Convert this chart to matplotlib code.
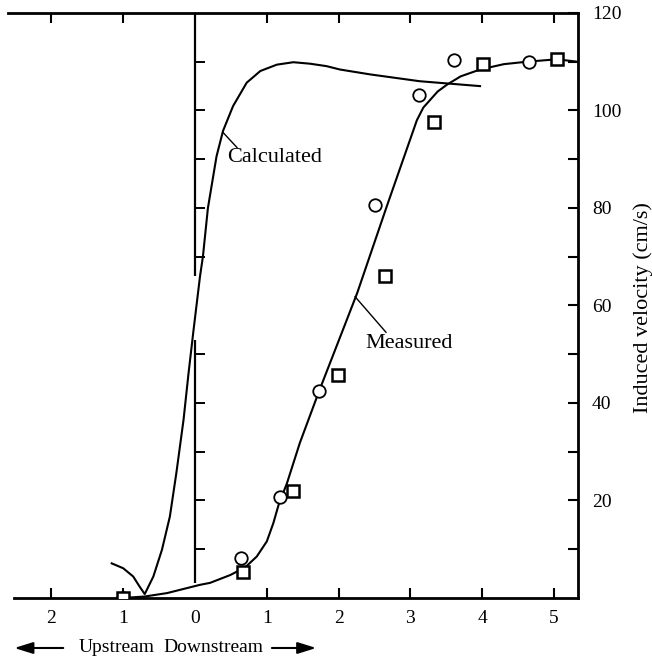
import matplotlib

matplotlib.use("Agg")
import matplotlib.pyplot as plt
from matplotlib.patches import FancyArrowPatch

# Calculated induced velocity curve (distance from the cylinder, upstream negative)
calc_x = [-1.16, -1.00, -0.86, -0.77, -0.70, -0.64, -0.58, -0.46, -0.35, -0.26, -0.16, -0.09, -0.02,
          0.07, 0.11, 0.18, 0.30, 0.39, 0.53, 0.72, 0.91, 1.14, 1.37, 1.60, 1.83, 2.02, 2.44, 3.13, 3.97]
calc_y = [7.1, 6.1, 4.4, 2.3, 0.8, 2.6, 4.4, 9.9, 16.7, 25.6, 36.5, 46.1, 55.0,
          66.0, 70.0, 80.0, 90.6, 95.8, 100.9, 105.7, 108.1, 109.4, 109.9, 109.6, 109.1, 108.4, 107.4, 106.0, 105.0]

# Measured curve (faired through the data)
meas_x = [-1.00, -0.70, -0.39, 0.07, 0.21, 0.49, 0.70, 0.86, 1.00, 1.09, 1.17, 1.28, 1.46, 1.73, 2.06, 2.26,
          2.67, 3.09, 3.18, 3.38, 3.51, 3.70, 3.97, 4.30, 4.62, 5.04, 5.33]
meas_y = [0.0, 0.3, 1.0, 2.7, 3.1, 4.7, 6.3, 8.5, 11.6, 15.3, 19.4, 23.5, 31.8, 42.5, 55.0, 62.6,
          80.3, 98.0, 100.6, 103.9, 105.3, 107.0, 108.4, 109.5, 110.0, 110.5, 110.0]

# Measured points, two runs
circle_x = [-1.0, 0.64, 1.18, 1.73, 2.51, 3.12, 3.61, 4.65]
circle_y = [0.0, 8.1, 20.8, 42.5, 80.7, 103.1, 110.3, 110.0]
square_x = [-1.0, 0.67, 1.36, 1.99, 2.65, 3.33, 4.01, 5.04]
square_y = [0.0, 5.4, 22.0, 45.8, 66.0, 97.6, 109.5, 110.5]

# Axis ticks
x_ticks = [-2, -1, 0, 1, 2, 3, 4, 5]
x_labels = ["2", "1", "0", "1", "2", "3", "4", "5"]
y_major = [20, 40, 60, 80, 100, 120]
y_minor = [10, 30, 50, 70, 90, 110]
inner_ticks = [10, 20, 30, 40, 50, 70, 80, 90, 100, 110]


def main():
    plt.rcParams["font.family"] = ["Liberation Serif", "DejaVu Serif"]

    fig = plt.figure(figsize=(6.52, 6.59), dpi=100)
    ax = fig.add_axes([0.0123, 0.0926, 0.8742, 0.8877])
    ax.set_xlim(-2.604, 5.334)
    ax.set_ylim(0, 120)

    # Curves and data
    ax.plot(calc_x, calc_y, color="black", lw=1.5, solid_joinstyle="round")
    ax.plot(meas_x, meas_y, color="black", lw=1.5, solid_joinstyle="round")
    ax.plot(circle_x, circle_y, ls="none", marker="o", ms=9, mfc="white", mec="black", mew=1.3, zorder=3)
    ax.plot(square_x, square_y, ls="none", marker="s", ms=8, mfc="white", mec="black", mew=1.8, zorder=3)

    # Broken vertical reference line at x = 0 with its own ticks
    ax.vlines(0, 66, 120, color="black", lw=1.6)
    ax.vlines(0, 3, 53, color="black", lw=1.6)
    ax.hlines(inner_ticks, 0, 0.14, color="black", lw=1.4)

    # Labels on the curves
    ax.plot([0.39, 0.585], [95.5, 92.4], color="black", lw=1)
    ax.text(0.45, 90.3, "Calculated", fontsize=16, va="center", ha="left")
    ax.plot([2.23, 2.66], [61.8, 54.5], color="black", lw=1)
    ax.text(2.37, 52.2, "Measured", fontsize=16, va="center", ha="left")

    # Spines
    ax.spines["left"].set_visible(False)
    for side in ["top", "right", "bottom"]:
        ax.spines[side].set_linewidth(2)
    ax.spines["bottom"].set_bounds(-2.52, 5.334)

    # X ticks on top and bottom, inward
    ax.set_xticks(x_ticks)
    ax.set_xticklabels(x_labels)
    ax.tick_params(axis="x", which="major", direction="in", top=True, bottom=True, length=7, width=1.5,
                   labelsize=14, pad=9)

    # Y ticks on the right
    ax.yaxis.tick_right()
    ax.set_yticks(y_major)
    ax.set_yticks(y_minor, minor=True)
    ax.tick_params(axis="y", which="both", direction="in", left=False, right=True, length=7, width=1.5,
                   labelsize=14, pad=10)

    # No tick marks at x = 0, the reference line takes their place
    for tick, val in zip(ax.xaxis.get_major_ticks(), x_ticks):
        if val == 0:
            tick.tick1line.set_visible(False)
            tick.tick2line.set_visible(False)

    fig.text(0.986, 0.533, "Induced velocity (cm/s)", rotation=90, ha="center", va="center", fontsize=16)

    # Upstream / downstream arrows under the axis
    fig.text(0.179, 0.0167, "Upstream", ha="center", va="center", fontsize=14)
    fig.text(0.327, 0.0167, "Downstream", ha="center", va="center", fontsize=14)
    arrow = dict(arrowstyle="-|>,head_length=0.8,head_width=0.25", mutation_scale=14, color="black",
                 lw=1.5, shrinkA=0, shrinkB=0)
    fig.add_artist(FancyArrowPatch((0.097, 0.0167), (0.022, 0.0167), transform=fig.transFigure, **arrow))
    fig.add_artist(FancyArrowPatch((0.417, 0.0167), (0.485, 0.0167), transform=fig.transFigure, **arrow))

    plt.savefig("out.png", dpi=100)


if __name__ == "__main__":
    main()
